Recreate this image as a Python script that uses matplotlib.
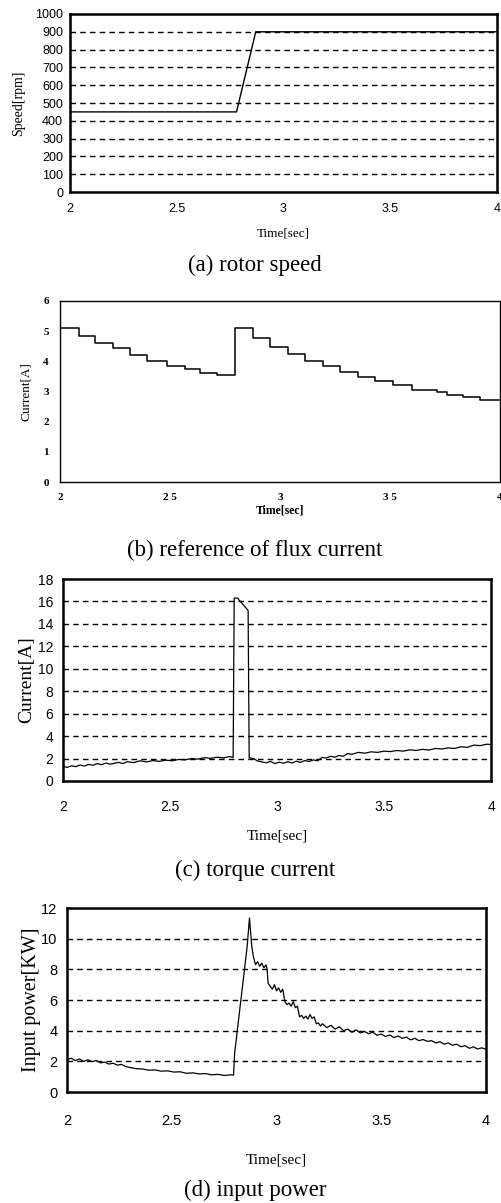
# plot.py
# -*- coding: utf-8 -*-
import numpy as np
import matplotlib
matplotlib.use('Agg')
import matplotlib.pyplot as plt

# (a) velocidad del rotor
t_vel = [2.0, 2.78, 2.87, 4.0]
velocidad = [450, 450, 900, 900]

# (b) referencia de corriente de flujo (escalones)
t_flujo = [2.0, 2.086, 2.159, 2.24, 2.318, 2.394, 2.485, 2.568, 2.636, 2.712, 2.795,
           2.879, 2.955, 3.038, 3.114, 3.197, 3.273, 3.356, 3.432, 3.515, 3.6,
           3.712, 3.758, 3.833, 3.909, 4.0]
i_flujo = [5.09, 4.85, 4.6, 4.44, 4.22, 4.0, 3.83, 3.75, 3.62, 3.54, 5.09,
           4.76, 4.48, 4.23, 4.01, 3.84, 3.65, 3.48, 3.35, 3.2, 3.05,
           2.97, 2.88, 2.82, 2.73, 2.73]

# (c) corriente de par
t_par = [2.0, 2.02, 2.04, 2.06, 2.08, 2.1, 2.12, 2.14, 2.16, 2.18, 2.2, 2.22, 2.24,
         2.26, 2.28, 2.3, 2.33, 2.36, 2.39, 2.42, 2.45, 2.48, 2.51, 2.54, 2.57,
         2.6, 2.63, 2.66, 2.69, 2.72, 2.75, 2.78, 2.795, 2.8, 2.815, 2.865, 2.87,
         2.89, 2.91, 2.93, 2.95, 2.97, 2.99, 3.01, 3.03, 3.05, 3.07, 3.09, 3.11,
         3.13, 3.15, 3.17, 3.19, 3.21, 3.23, 3.25, 3.27, 3.29, 3.31, 3.33, 3.35,
         3.38, 3.41, 3.44, 3.47, 3.5, 3.53, 3.56, 3.59, 3.62, 3.65, 3.68, 3.71,
         3.74, 3.77, 3.8, 3.83, 3.86, 3.89, 3.92, 3.95, 3.98, 4.0]
i_par = [1.3, 1.22, 1.35, 1.28, 1.42, 1.33, 1.48, 1.4, 1.55, 1.45, 1.6, 1.5, 1.58,
         1.66, 1.55, 1.72, 1.64, 1.8, 1.7, 1.82, 1.75, 1.86, 1.8, 1.92, 1.88,
         2.0, 1.95, 2.08, 2.02, 2.12, 2.06, 2.18, 2.1, 16.3, 16.3, 15.2, 2.06,
         2.0, 1.78, 1.7, 1.62, 1.75, 1.55, 1.68, 1.58, 1.72, 1.6, 1.76, 1.66,
         1.82, 1.74, 1.88, 1.8, 2.1, 2.05, 2.2, 2.12, 2.28, 2.2, 2.45, 2.38,
         2.55, 2.48, 2.6, 2.55, 2.66, 2.62, 2.72, 2.66, 2.78, 2.72, 2.82, 2.76,
         2.9, 2.85, 2.95, 2.9, 3.05, 3.0, 3.2, 3.15, 3.28, 3.25]

# (d) potencia de entrada
t_pot = [2.0, 2.02, 2.04, 2.06, 2.08, 2.1, 2.12, 2.14, 2.16, 2.18, 2.2, 2.22, 2.24,
         2.26, 2.28, 2.3, 2.33, 2.36, 2.39, 2.42, 2.45, 2.48, 2.51, 2.54, 2.57,
         2.6, 2.63, 2.66, 2.69, 2.72, 2.75, 2.78, 2.795, 2.8, 2.86, 2.871, 2.882,
         2.89, 2.9, 2.91, 2.92, 2.93, 2.94, 2.95, 2.955, 2.96, 2.97, 2.98, 2.99,
         3.0, 3.01, 3.02, 3.03, 3.04, 3.05, 3.06, 3.07, 3.08, 3.09, 3.1, 3.11,
         3.12, 3.13, 3.14, 3.15, 3.16, 3.17, 3.18, 3.19, 3.2, 3.21, 3.22, 3.24,
         3.26, 3.28, 3.3, 3.32, 3.34, 3.36, 3.38, 3.4, 3.42, 3.44, 3.46, 3.48,
         3.5, 3.52, 3.54, 3.56, 3.58, 3.6, 3.62, 3.64, 3.66, 3.68, 3.7, 3.72,
         3.74, 3.76, 3.78, 3.8, 3.82, 3.84, 3.86, 3.88, 3.9, 3.92, 3.94, 3.96,
         3.98, 4.0]
potencia = [2.12, 2.2, 2.05, 2.15, 2.0, 2.1, 1.98, 2.05, 1.9, 1.95, 1.82, 1.88, 1.75,
            1.8, 1.66, 1.6, 1.52, 1.5, 1.42, 1.44, 1.36, 1.38, 1.3, 1.32, 1.22,
            1.25, 1.18, 1.2, 1.12, 1.15, 1.08, 1.12, 1.1, 2.5, 9.5, 11.35, 9.5,
            8.8, 8.3, 8.5, 8.2, 8.4, 8.1, 8.3, 8.0, 7.1, 6.9, 6.7, 7.0,
            6.6, 6.8, 6.5, 6.7, 5.9, 5.7, 5.8, 5.6, 5.9, 5.5, 5.6, 4.9,
            5.0, 4.8, 4.95, 4.75, 5.05, 4.8, 4.9, 4.45, 4.5, 4.3, 4.45, 4.2,
            4.35, 4.1, 4.25, 4.0, 4.1, 3.9, 4.05, 3.85, 3.95, 3.8, 3.9, 3.7,
            3.78, 3.62, 3.72, 3.55, 3.65, 3.5, 3.58, 3.4, 3.5, 3.35, 3.42, 3.3,
            3.35, 3.2, 3.28, 3.12, 3.2, 3.05, 3.12, 2.95, 3.02, 2.85, 2.95, 2.8,
            2.88, 2.78]

ticks_t = [2, 2.5, 3, 3.5, 4]
etiquetas_t = ['2', '2.5', '3', '3.5', '4']

W, H = 501, 1203
fig = plt.figure(figsize=(W / 100, H / 100), dpi=100)

fuente_ejes = ['Liberation Sans Narrow', 'Liberation Sans', 'DejaVu Sans']
serif = ['Liberation Serif', 'DejaVu Serif']


def caja(izq, der, arriba, abajo):
    return fig.add_axes([izq / W, 1 - abajo / H, (der - izq) / W, (abajo - arriba) / H])


def estilo(ax, ymax, yticks, tam, grosor, padx, pady, grid=True):
    ax.set_xlim(2, 4)
    ax.set_ylim(0, ymax)
    ax.set_xticks(ticks_t)
    ax.set_xticklabels(etiquetas_t, family=fuente_ejes, fontsize=tam)
    ax.set_yticks(yticks)
    ax.set_yticklabels([str(v) for v in yticks], family=fuente_ejes, fontsize=tam)
    ax.tick_params(length=0)
    ax.tick_params(axis='x', pad=padx)
    ax.tick_params(axis='y', pad=pady)
    for s in ax.spines.values():
        s.set_linewidth(grosor)
    if grid:
        for v in yticks[1:-1]:
            ax.axhline(v, color='black', lw=1.0, ls=(0, (4, 3)), zorder=1)


# (a)
ax1 = caja(70, 497, 14, 192)
ax1.plot(t_vel, velocidad, color='black', lw=1.0, zorder=3)
estilo(ax1, 1000, list(range(0, 1001, 100)), 9, 1.8, 8, 5)
ax1.set_ylabel('Speed[rpm]', family=serif, fontsize=10, labelpad=7)
ax1.set_xlabel('Time[sec]', family=serif, fontsize=9.5, labelpad=9)
fig.text(255 / W, 1 - 265 / H, '(a) rotor speed', family=serif, fontsize=16.5,
         ha='center', va='center')

# (b)
ax2 = caja(60, 500, 301, 482)
ax2.step(t_flujo, i_flujo, where='post', color='black', lw=1.1, zorder=3)
estilo(ax2, 6, [0, 1, 2, 3, 4, 5, 6], 8, 1.0, 8, 8, grid=False)
ax2.set_xticklabels(['2', '2 5', '3', '3 5', '4'], family=serif, fontsize=8,
                    fontweight='bold')
ax2.set_yticklabels([str(v) for v in range(7)], family=serif, fontsize=8,
                    fontweight='bold')
ax2.set_ylabel('Current[A]', family=serif, fontsize=9.5, labelpad=8)
ax2.set_xlabel('Time[sec]', family=serif, fontsize=8.5, fontweight='bold', labelpad=2)
fig.text(255 / W, 1 - 550 / H, '(b) reference of flux current', family=serif,
         fontsize=16.5, ha='center', va='center')

# (c)
ax3 = caja(63, 491, 579, 781)
ax3.plot(t_par, i_par, color='black', lw=0.9, zorder=3)
estilo(ax3, 18, list(range(0, 19, 2)), 10, 1.8, 14, 7)
ax3.set_ylabel('Current[A]', family=serif, fontsize=14, labelpad=2)
ax3.set_xlabel('Time[sec]', family=serif, fontsize=11, labelpad=11)
fig.text(255 / W, 1 - 870 / H, '(c) torque current', family=serif, fontsize=16.5,
         ha='center', va='center')

# (d)
ax4 = caja(67, 486, 908, 1092)
ax4.plot(t_pot, potencia, color='black', lw=0.9, zorder=3)
estilo(ax4, 12, list(range(0, 13, 2)), 10.5, 1.8, 16, 7)
ax4.set_ylabel('Input power[KW]', family=serif, fontsize=14.5, labelpad=0)
ax4.set_xlabel('Time[sec]', family=serif, fontsize=11, labelpad=18)
fig.text(255 / W, 1 - 1190 / H, '(d) input power', family=serif, fontsize=16.5,
         ha='center', va='center')

fig.savefig('out.png', dpi=100)
